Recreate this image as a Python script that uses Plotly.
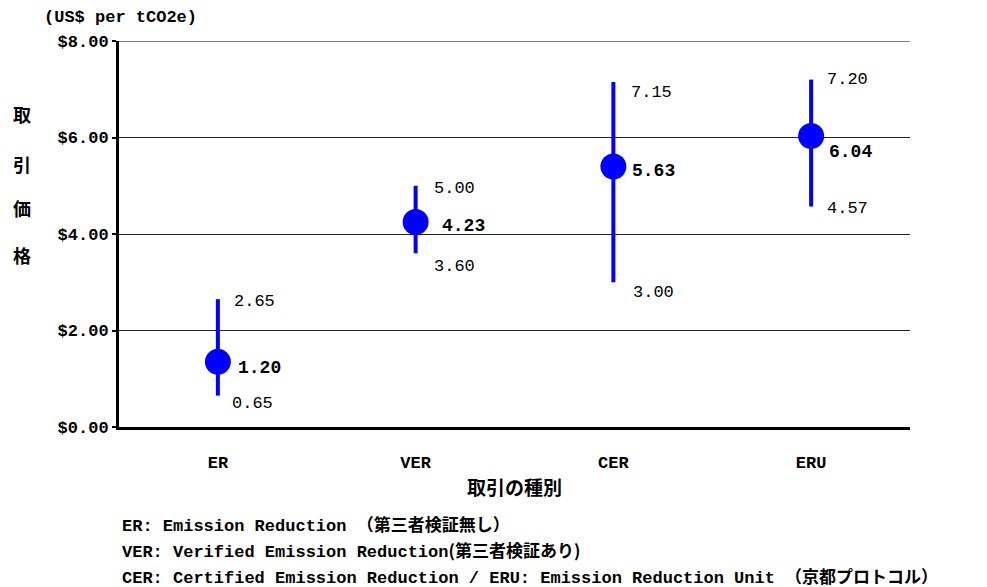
import plotly.graph_objects as go

categories = ["ER", "VER", "CER", "ERU"]
avg_labels = [1.20, 4.23, 5.63, 6.04]
avg_plotted = [1.35, 4.25, 5.40, 6.03]
max_values = [2.65, 5.00, 7.15, 7.20]
min_values = [0.65, 3.60, 3.00, 4.57]
y_ticks = [0, 2, 4, 6, 8]

legend_lines = [
    "ER: Emission Reduction <span style='font-family:Noto Sans CJK JP;font-size:17px'>（第三者検証無し）</span>",
    "VER: Verified Emission Reduction<span style='font-family:Noto Sans CJK JP;font-size:17px'>(第三者検証あり)</span>",
    "CER: Certified Emission Reduction / ERU: Emission Reduction Unit <span style='font-family:Noto Sans CJK JP;font-size:17px'>（京都プロトコル）</span>",
]

MONO = "Liberation Mono, Noto Sans CJK JP"
CJK = "Noto Sans CJK JP"
BLUE = "#0000FF"

fig = go.Figure()
fig.add_trace(go.Scatter(
    x=categories, y=avg_plotted, mode="markers",
    marker=dict(size=26, color=BLUE),
    error_y=dict(type="data", symmetric=False,
                 array=[mx - a for mx, a in zip(max_values, avg_plotted)],
                 arrayminus=[a - mn for mn, a in zip(min_values, avg_plotted)],
                 thickness=4, width=0, color=BLUE),
    showlegend=False, hoverinfo="skip",
))

ann = []
mean_shift = [(18, -6), (24, -4), (17, -5), (16, -16)]
max_shift = [(14, -2), (16, -3), (16, -10), (14, 0)]
min_shift = [(12, -8), (16, -13), (18, -10), (14, -2)]
for i, c in enumerate(categories):
    ann.append(dict(x=c, y=avg_plotted[i], text=f"{avg_labels[i]:.2f}", showarrow=False,
                    xanchor="left", yanchor="middle", xshift=mean_shift[i][0], yshift=mean_shift[i][1],
                    font=dict(family=MONO, size=18, color="black", weight="bold")))
    ann.append(dict(x=c, y=max_values[i], text=f"{max_values[i]:.2f}", showarrow=False,
                    xanchor="left", yanchor="middle", xshift=max_shift[i][0], yshift=max_shift[i][1],
                    font=dict(family=MONO, size=17, color="black")))
    ann.append(dict(x=c, y=min_values[i], text=f"{min_values[i]:.2f}", showarrow=False,
                    xanchor="left", yanchor="middle", xshift=min_shift[i][0], yshift=min_shift[i][1],
                    font=dict(family=MONO, size=17, color="black")))

ann.append(dict(xref="paper", yref="paper", x=-0.0973, y=1.06, text="(US$ per tCO2e)",
                showarrow=False, xanchor="left", yanchor="middle",
                font=dict(family=MONO, size=17, color="black", weight="bold")))
for ch, yy in zip("取引価格", [0.811, 0.681, 0.567, 0.446]):
    ann.append(dict(xref="paper", yref="paper", x=-0.1226, y=yy, text=ch, showarrow=False,
                    xanchor="center", yanchor="middle",
                    font=dict(family=CJK, size=18, color="black", weight="bold")))
ann.append(dict(xref="paper", yref="paper", x=0.5, y=-0.155, text="取引の種別", showarrow=False,
                xanchor="center", yanchor="middle",
                font=dict(family=CJK, size=19, color="black", weight="bold")))
for line, yy in zip(legend_lines, [-0.249, -0.318, -0.384]):
    ann.append(dict(xref="paper", yref="paper", x=0.0013, y=yy, text=line, showarrow=False,
                    xanchor="left", yanchor="middle",
                    font=dict(family=MONO, size=17, color="black", weight="bold")))

fig.update_layout(
    width=979, height=579,
    margin=dict(l=111, r=77, t=33, b=160),
    paper_bgcolor="white", plot_bgcolor="white",
    annotations=ann,
    shapes=[dict(type="line", xref="paper", yref="y", x0=0, x1=1, y0=8, y1=8,
                 line=dict(color="#808080", width=2), layer="below")],
    xaxis=dict(type="category", range=[-0.5, 3.5], showgrid=False,
               showline=True, linecolor="black", linewidth=3, ticks="",
               ticklabelstandoff=18,
               tickfont=dict(family=MONO, size=17, color="black", weight="bold")),
    yaxis=dict(range=[0, 8], tickvals=y_ticks, tickformat="$.2f",
               showgrid=True, gridcolor="#222222", gridwidth=1, zeroline=False,
               showline=True, linecolor="black", linewidth=3,
               ticks="outside", ticklen=4, tickwidth=2, tickcolor="black",
               tickfont=dict(family=MONO, size=17, color="black", weight="bold")),
)

fig.write_html("out.html")
